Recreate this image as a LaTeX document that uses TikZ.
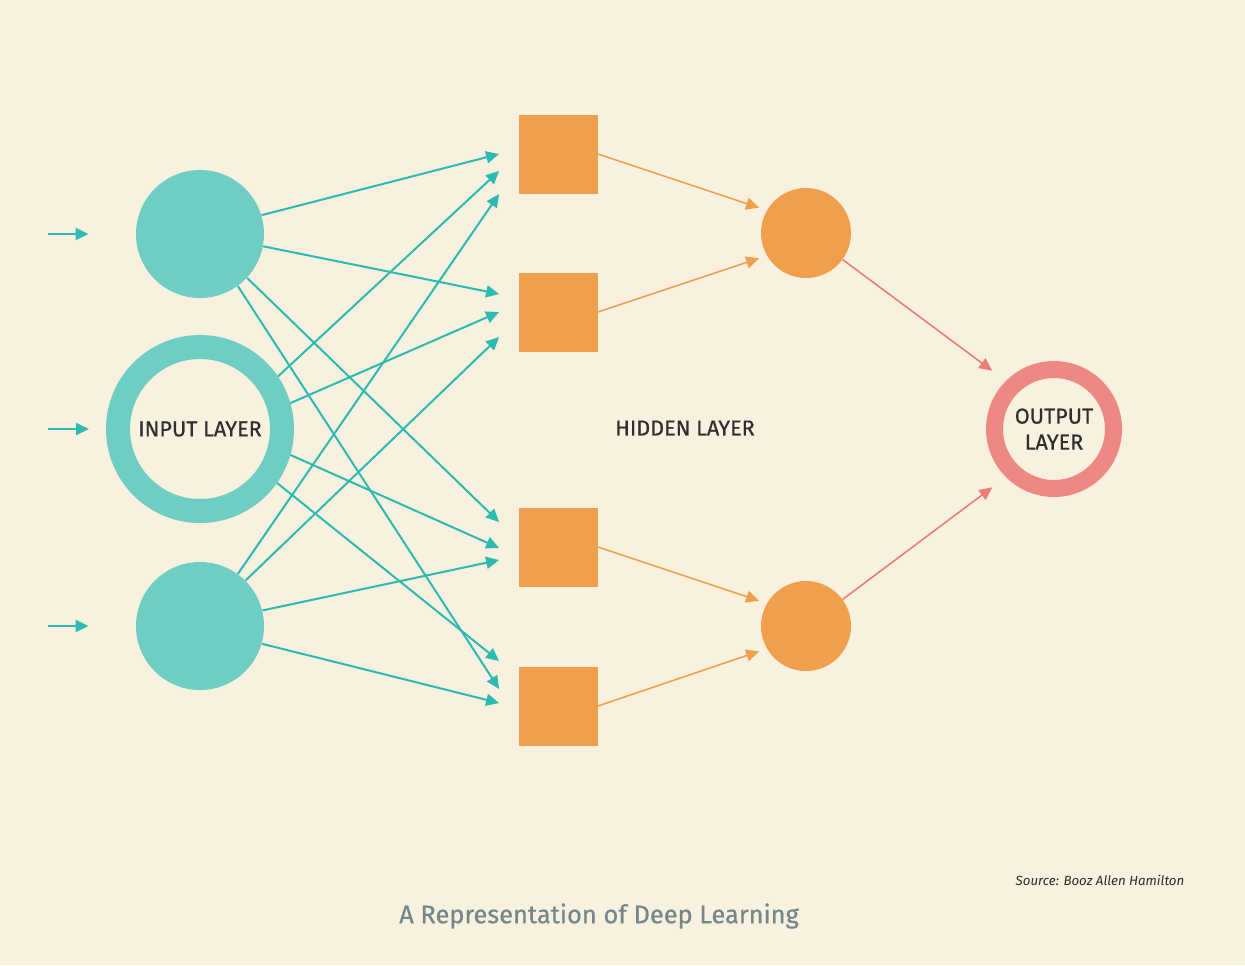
\documentclass[tikz,border=0pt]{standalone}
\usepackage{fontspec}
\setmainfont{Fira Sans}
\newfontfamily\medfont{Fira Sans}[FakeBold=0.6]
\usetikzlibrary{arrows.meta}
\definecolor{bg}{HTML}{F8F1DF}
\definecolor{tealfill}{HTML}{6ECEC4}
\definecolor{tealline}{HTML}{2DBAB2}
\definecolor{orng}{HTML}{F0A04C}
\definecolor{salmon}{HTML}{EE8882}
\definecolor{salline}{HTML}{EC7E78}
\definecolor{txt}{HTML}{2F2F2F}
\definecolor{capcol}{HTML}{76878C}
\begin{document}
\begin{tikzpicture}[x=0.5pt,y=-0.5pt,
  tip/.style={-{Triangle[length=6.5pt,width=6pt]}},
  tealarrow/.style={tip,draw=tealline,line width=1pt},
  orarrow/.style={tip,draw=orng,line width=0.8pt},
  salarrow/.style={tip,draw=salline,line width=0.8pt},
  lblfont/.style={text=txt,font=\medfont\fontsize{10.8}{13}\selectfont},
  indot/.style={circle,fill=tealfill,inner sep=0pt,minimum size=64pt},
  inring/.style={circle,draw=tealfill,line width=12pt,inner sep=0pt,minimum size=82pt,lblfont},
  sqbox/.style={rectangle,fill=orng,inner sep=0pt,minimum size=39.5pt},
  hdot/.style={circle,fill=orng,inner sep=0pt,minimum size=45pt},
  outring/.style={circle,draw=salmon,line width=8.5pt,inner sep=0pt,minimum size=59.5pt,align=center,lblfont},
  lbl/.style={lblfont,inner sep=0pt}
]
\fill[bg] (0,0) rectangle (1245,965);
\useasboundingbox (0,0) rectangle (1245,965);

% input layer
\node[indot] (i1) at (200,234) {};
\node[inring] (i2) at (200,429) {INPUT LAYER};
\node[indot] (i3) at (200,626) {};
% hidden squares
\node[sqbox] (s1) at (558,154) {};
\node[sqbox] (s2) at (558,312) {};
\node[sqbox] (s3) at (558,547) {};
\node[sqbox] (s4) at (558,706) {};
% hidden circles
\node[hdot] (h1) at (806,233) {};
\node[hdot] (h2) at (806,626) {};
% output
\node[outring] (o) at (1054,429) {OUTPUT\\LAYER};
\node[lbl] (hl) at (685,428) {HIDDEN LAYER};

\node[text=capcol,font=\medfont\fontsize{12.7}{15}\selectfont,inner sep=0pt] (title) at (599,916) {A Representation of Deep Learning};
\node[text=txt,font=\fontsize{6.65}{9}\selectfont\itshape,inner sep=0pt] (src) at (1100,880) {Source: Booz Allen Hamilton};

% incoming arrows
\coordinate (a1) at (48,234);
\coordinate (a2) at (48,429);
\coordinate (a3) at (48,626);
\draw[tealarrow] (a1) -- ([shift={(-47,0)}]i1.west);
\draw[tealarrow] (a2) -- ([shift={(-17,0)}]i2.west);
\draw[tealarrow] (a3) -- ([shift={(-47,0)}]i3.west);

% input -> hidden squares
\draw[tealarrow] (i1.17)  -- ([shift={(-19,0)}]s1.west);
\draw[tealarrow] (i1.-11) -- ([shift={(-19,-18)}]s2.west);
\draw[tealarrow] (i1.-43) -- ([shift={(-19,-25)}]s3.west);
\draw[tealarrow] (i1.-54) -- ([shift={(-19,-17)}]s4.west);

\draw[tealarrow] (i2.34)  -- ([shift={(-19,17)}]s1.west);
\draw[tealarrow] (i2.16)  -- ([shift={(-19,0)}]s2.west);
\draw[tealarrow] (i2.-16) -- ([shift={(-19,1)}]s3.west);
\draw[tealarrow] (i2.-35) -- ([shift={(-19,-45)}]s4.west);

\draw[tealarrow] (i3.54)  -- ([shift={(-19,40)}]s1.west);
\draw[tealarrow] (i3.45)  -- ([shift={(-19,25)}]s2.west);
\draw[tealarrow] (i3.14)  -- ([shift={(-19,13)}]s3.west);
\draw[tealarrow] (i3.-16) -- ([shift={(-19,-3)}]s4.west);

% squares -> hidden circles
\draw[orarrow,shorten >=4pt] (s1.east) -- (h1.150);
\draw[orarrow,shorten >=4pt] (s2.east) -- (h1.210);
\draw[orarrow,shorten >=4pt] (s3.east) -- (h2.150);
\draw[orarrow,shorten >=4pt] (s4.east) -- (h2.210);

% hidden circles -> output
\draw[salarrow,shorten >=8.5pt] (h1.-36) -- (o.135);
\draw[salarrow,shorten >=8.5pt] (h2.36) -- (o.225);
\end{tikzpicture}
\end{document}
